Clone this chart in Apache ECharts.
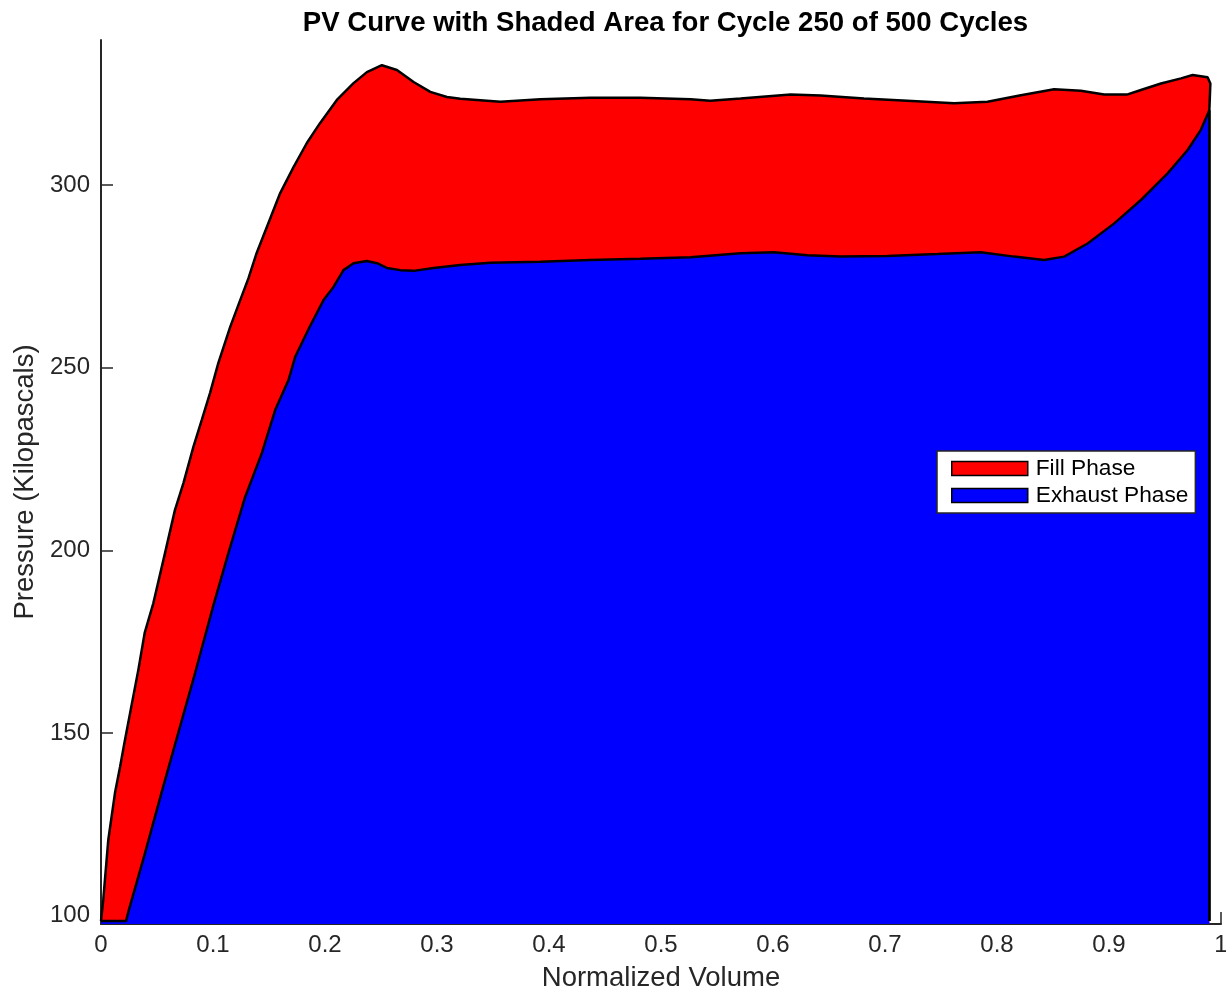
<!DOCTYPE html>
<html>
<head>
<meta charset="utf-8">
<script src="https://cdn.jsdelivr.net/npm/echarts@6/dist/echarts.min.js"></script>
<style>
html,body{margin:0;padding:0;background:#fff;}
#chart{width:1226px;height:989px;}
</style>
</head>
<body>
<div id="chart"></div>
<script>
// Fill phase (upper curve of the PV loop)
const fillVolume = [0, 0.002, 0.0065, 0.0125, 0.017, 0.0214, 0.026, 0.0333, 0.039, 0.0467, 0.0572, 0.066, 0.0736, 0.0825, 0.09, 0.0974, 0.1048, 0.1153, 0.1227, 0.1317, 0.139, 0.1495, 0.16, 0.1719, 0.1838, 0.1957, 0.2106, 0.2255, 0.2374, 0.2508, 0.2642, 0.2791, 0.294, 0.3089, 0.3208, 0.3566, 0.3923, 0.437, 0.4817, 0.5264, 0.544, 0.571, 0.6157, 0.6425, 0.6812, 0.72, 0.7617, 0.7915, 0.8213, 0.851, 0.8749, 0.8957, 0.9166, 0.9285, 0.9464, 0.9643, 0.9747, 0.988, 0.9905, 0.9896, 0.9896];
const fillPressure = [98.5, 104.3, 120.7, 133.6, 140.7, 148.1, 155.5, 167.2, 177.4, 185.5, 199.3, 211, 218.4, 228.3, 235.7, 243.1, 251.3, 261.1, 267.2, 274.5, 281.4, 289.6, 297.8, 304.9, 311.5, 317, 323.3, 327.9, 330.9, 332.8, 331.5, 328.2, 325.5, 324.1, 323.6, 322.8, 323.5, 323.9, 323.9, 323.5, 323.1, 323.7, 324.8, 324.5, 323.7, 323.1, 322.4, 322.8, 324.6, 326.2, 325.8, 324.8, 324.8, 326, 327.8, 329.2, 330.1, 329.5, 327.8, 320.5, 98.5];

// Exhaust phase (lower curve of the PV loop)
const exhaustVolume = [0, 0.0223, 0.0244, 0.0393, 0.054, 0.069, 0.084, 0.1004, 0.1138, 0.1287, 0.1436, 0.1555, 0.1674, 0.1733, 0.186, 0.1987, 0.2076, 0.2165, 0.2255, 0.2374, 0.2464, 0.2553, 0.2672, 0.2791, 0.297, 0.3208, 0.3476, 0.3923, 0.437, 0.4817, 0.5264, 0.571, 0.6008, 0.6307, 0.6604, 0.702, 0.7468, 0.7855, 0.8153, 0.842, 0.86, 0.8809, 0.9047, 0.9285, 0.9523, 0.9702, 0.982, 0.9896, 0.9896];
const exhaustPressure = [98.5, 98.5, 101, 117.1, 133.6, 150, 166.4, 185, 199.3, 214.6, 226.6, 238.4, 246.6, 252.9, 261, 268.5, 272.1, 276.7, 278.6, 279.2, 278.6, 277.3, 276.7, 276.5, 277.3, 278.1, 278.7, 279, 279.5, 279.8, 280.2, 281.3, 281.6, 280.8, 280.4, 280.6, 281.1, 281.6, 280.4, 279.5, 280.4, 284, 289.5, 295.9, 303.2, 309.6, 315.1, 320.5, 98.5];

const yTickValues = [100, 150, 200, 250, 300];
const seriesNames = ['Fill Phase', 'Exhaust Phase'];
const titleText = 'PV Curve with Shaded Area for Cycle 250 of 500 Cycles';
const xName = 'Normalized Volume';
const yName = 'Pressure (Kilopascals)';

const zip = (a, b) => a.map((v, i) => [v, b[i]]);
const FONT = "'Liberation Sans', Arial, Helvetica, sans-serif";
const chart = echarts.init(document.getElementById('chart'), null, {renderer: 'canvas'});

chart.setOption({
  animation: false,
  backgroundColor: '#fff',
  title: {
    text: titleText,
    left: 660.5,
    textAlign: 'center',
    top: 4,
    textStyle: {fontFamily: FONT, fontSize: 27.6, fontWeight: 'bold', color: '#000'}
  },
  legend: {
    data: seriesNames,
    orient: 'vertical',
    left: 937,
    top: 451,
    align: 'left',
    icon: 'rect',
    itemWidth: 76,
    itemHeight: 14,
    itemGap: 4,
    padding: [6, 7, 6, 14],
    backgroundColor: '#fff',
    borderColor: '#262626',
    borderWidth: 1.5,
    borderRadius: 0,
    itemStyle: {borderColor: '#000', borderWidth: 1.5},
    textStyle: {fontFamily: FONT, fontSize: 22.7, color: '#000', padding: [0, 0, 0, 3]}
  },
  grid: {left: 101, right: 5, top: 40, bottom: 65, containLabel: false, outerBoundsMode: 'none'},
  xAxis: {
    type: 'value',
    min: 0,
    max: 1,
    interval: 0.1,
    name: xName,
    nameLocation: 'middle',
    nameGap: 40,
    nameTextStyle: {fontFamily: FONT, fontSize: 27.5, color: '#262626'},
    axisLine: {show: true, lineStyle: {color: '#262626', width: 2}},
    axisTick: {show: true, inside: true, length: 12, lineStyle: {color: '#262626', width: 1.5}},
    axisLabel: {fontFamily: FONT, fontSize: 24, color: '#262626', margin: 9},
    splitLine: {show: false}
  },
  yAxis: {
    type: 'value',
    min: 97.7,
    max: 339.7,
    name: yName,
    nameLocation: 'middle',
    nameGap: 62,
    nameTextStyle: {fontFamily: FONT, fontSize: 27.5, color: '#262626'},
    axisLine: {show: true, lineStyle: {color: '#262626', width: 2}},
    axisTick: {show: true, inside: true, length: 12, customValues: yTickValues, lineStyle: {color: '#262626', width: 1.5}},
    axisLabel: {fontFamily: FONT, fontSize: 24, color: '#262626', margin: 11, customValues: yTickValues},
    splitLine: {show: false}
  },
  series: [
    {
      name: seriesNames[0],
      type: 'line',
      data: zip(fillVolume, fillPressure),
      showSymbol: false,
      symbol: 'none',
      smooth: false,
      itemStyle: {color: '#ff0000'},
      lineStyle: {color: '#000', width: 2.5},
      areaStyle: {color: '#ff0000', opacity: 1, origin: 'start'},
      z: 2
    },
    {
      name: seriesNames[1],
      type: 'line',
      data: zip(exhaustVolume, exhaustPressure),
      showSymbol: false,
      symbol: 'none',
      smooth: false,
      itemStyle: {color: '#0000ff'},
      lineStyle: {color: '#000', width: 2.5},
      areaStyle: {color: '#0000ff', opacity: 1, origin: 'start'},
      z: 3
    }
  ]
});
</script>
</body>
</html>
